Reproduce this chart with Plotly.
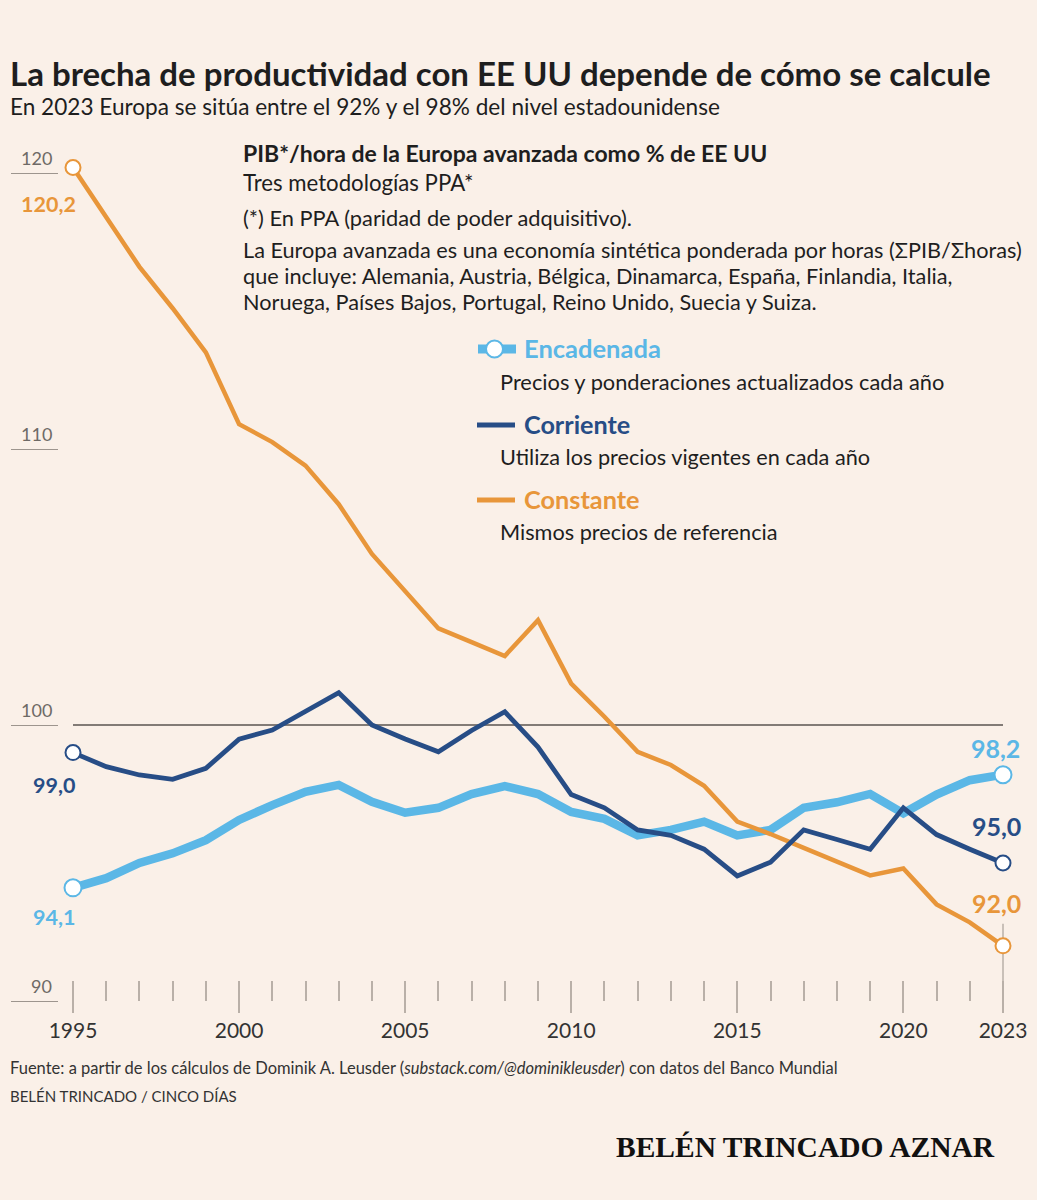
import plotly.graph_objects as go

# data (PIB/hora Europa avanzada como % de EE UU)
years = list(range(1995, 2024))
encadenada = [94.1, 94.45, 95.0, 95.35, 95.83, 96.56, 97.1, 97.58, 97.83, 97.22,
              96.82, 97.0, 97.5, 97.79, 97.5, 96.85, 96.6, 96.0, 96.2, 96.5,
              96.0, 96.2, 97.0, 97.2, 97.5, 96.8, 97.48, 98.0, 98.2]
corriente = [99.0, 98.49, 98.19, 98.03, 98.43, 99.49, 99.82, 100.48, 101.17, 100.0,
             99.49, 99.03, 99.8, 100.48, 99.2, 97.48, 97.0, 96.2, 96.0, 95.5,
             94.53, 95.03, 96.2, 95.85, 95.5, 97.0, 96.03, 95.5, 95.0]
constante = [120.2, 118.4, 116.6, 115.1, 113.5, 110.9, 110.25, 109.4, 108.0, 106.2,
             104.85, 103.5, 103.0, 102.5, 103.8, 101.5, 100.3, 99.03, 98.55, 97.8,
             96.5, 96.05, 95.55, 95.05, 94.55, 94.8, 93.5, 92.85, 92.0]
major_years = [1995, 2000, 2005, 2010, 2015, 2020, 2023]
y_ticks = [90, 100, 110, 120]
end_labels = {"encadenada": ("94,1", "98,2"),
              "corriente": ("99,0", "95,0"),
              "constante": ("120,2", "92,0")}

BG = "#FAF0E8"
BLUE = "#5BB7E6"
NAVY = "#274D86"
ORANGE = "#E8963A"
INK = "#1E1E1E"
GREY = "#6E6A66"
FONT = "Lato"

W, H = 1037, 1200
# pixel geometry of the plot
px_year = (1003 - 73) / 28
px_unit = 27.6
x_lo = 1995 - 73 / px_year
x_hi = x_lo + W / px_year
y_hi = 100 + 725 / px_unit
y_lo = y_hi - H / px_unit


def py(p):
    return 1 - p / H


def px(p):
    return p / W


fig = go.Figure()

# reference line at 100
fig.add_trace(go.Scatter(x=[years[0], years[-1]], y=[100, 100], mode="lines",
                         line=dict(color="#5a5550", width=1.3), hoverinfo="skip"))
# 2023 leader tick
fig.add_trace(go.Scatter(x=[years[-1], years[-1]], y=[92.8, y_hi - 1012 / px_unit],
                         mode="lines", line=dict(color="#b9b0a8", width=1.5),
                         hoverinfo="skip"))

series = [
    ("encadenada", encadenada, BLUE, 8.5, 17),
    ("constante", constante, ORANGE, 4.5, 15),
    ("corriente", corriente, NAVY, 4.8, 15),
]
for key, vals, color, lw, msize in series:
    fig.add_trace(go.Scatter(x=years, y=vals, mode="lines",
                             line=dict(color=color, width=lw)))
    fig.add_trace(go.Scatter(x=[years[0], years[-1]], y=[vals[0], vals[-1]],
                             mode="markers",
                             marker=dict(size=msize, color="white",
                                         line=dict(color=color, width=2))))

label_offsets = {
    "encadenada": ((-19, -29, 21.5), (-8, 27, 25)),
    "corriente": ((-19, -32, 21.5), (-7, 37, 25)),
    "constante": ((-25, -37, 21.5), (-7, 43, 25)),
}
colors = {"encadenada": BLUE, "corriente": NAVY, "constante": ORANGE}
data = {"encadenada": encadenada, "corriente": corriente, "constante": constante}
for key, (first, last) in end_labels.items():
    (dx0, dy0, s0), (dx1, dy1, s1) = label_offsets[key]
    vals = data[key]
    fig.add_annotation(x=years[0], y=vals[0], text="<b>%s</b>" % first, showarrow=False,
                       xshift=dx0, yshift=dy0,
                       font=dict(family=FONT, size=s0, color=colors[key]))
    fig.add_annotation(x=years[-1], y=vals[-1], text="<b>%s</b>" % last, showarrow=False,
                       xshift=dx1, yshift=dy1,
                       font=dict(family=FONT, size=s1, color=colors[key]))

# y tick labels sit above their short tick lines, right aligned
for v in y_ticks:
    fig.add_annotation(xref="paper", x=px(54), y=v, text=str(v), showarrow=False,
                       xanchor="right", yanchor="bottom", yshift=2,
                       font=dict(family=FONT, size=18, color=GREY))

# titles and notes
texts = [
    (8, 73, "<b>La brecha de productividad con EE UU depende de cómo se calcule</b>", 33, INK, FONT),
    (8, 107, "En 2023 Europa se sitúa entre el 92% y el 98% del nivel estadounidense", 22.6, INK, FONT),
    (241, 153, "<b>PIB*/hora de la Europa avanzada como % de EE UU</b>", 23, INK, FONT),
    (241, 183, "Tres metodologías PPA*", 22.2, INK, FONT),
    (241, 217, "(*) En PPA (paridad de poder adquisitivo).", 21.8, INK, FONT),
    (241, 250, "La Europa avanzada es una economía sintética ponderada por horas (ΣPIB/Σhoras)", 21.7, INK, FONT),
    (241, 276, "que incluye: Alemania, Austria, Bélgica, Dinamarca, España, Finlandia, Italia,", 21.7, INK, FONT),
    (241, 302, "Noruega, Países Bajos, Portugal, Reino Unido, Suecia y Suiza.", 21.7, INK, FONT),
    (522, 348, "<b>Encadenada</b>", 25.5, BLUE, FONT),
    (498, 381, "Precios y ponderaciones actualizados cada año", 21.8, INK, FONT),
    (522, 424, "<b>Corriente</b>", 25.2, NAVY, FONT),
    (498, 457, "Utiliza los precios vigentes en cada año", 21.7, INK, FONT),
    (522, 499, "<b>Constante</b>", 25.3, ORANGE, FONT),
    (498, 532, "Mismos precios de referencia", 21.7, INK, FONT),
    (8, 1068, "Fuente: a partir de los cálculos de Dominik A. Leusder (<i>substack.com/@dominikleusder</i>) con datos del Banco Mundial", 16.5, "#333", FONT),
    (8, 1096, "BELÉN TRINCADO / CINCO DÍAS", 15, "#333", FONT),
    (614, 1147, "<b>BELÉN TRINCADO AZNAR</b>", 29.5, "#111", "Liberation Serif"),
]
for x, y, t, size, color, family in texts:
    fig.add_annotation(xref="paper", yref="paper", x=px(x), y=py(y), text=t,
                       showarrow=False, xanchor="left", yanchor="middle",
                       font=dict(family=family, size=size, color=color))

# legend swatches
fig.add_shape(type="line", xref="paper", yref="paper", x0=px(478), x1=px(516),
              y0=py(349), y1=py(349), line=dict(color=BLUE, width=9))
fig.add_shape(type="circle", xref="paper", yref="paper", x0=px(486), x1=px(503),
              y0=py(357.5), y1=py(340.5), fillcolor="white", line=dict(color=BLUE, width=2))
fig.add_shape(type="line", xref="paper", yref="paper", x0=px(477), x1=px(515),
              y0=py(425), y1=py(425), line=dict(color=NAVY, width=5))
fig.add_shape(type="line", xref="paper", yref="paper", x0=px(477), x1=px(515),
              y0=py(500), y1=py(500), line=dict(color=ORANGE, width=5))

fig.update_layout(
    width=W, height=H,
    margin=dict(l=0, r=0, t=0, b=0),
    paper_bgcolor=BG, plot_bgcolor=BG,
    showlegend=False,
    font=dict(family=FONT, color=INK),
    xaxis=dict(range=[x_lo, x_hi], anchor="free", position=py(980),
               showgrid=False, zeroline=False, showline=False,
               tickmode="array", tickvals=major_years,
               ticks="outside", ticklen=32, tickwidth=1.5, tickcolor="#b9b0a8",
               tickfont=dict(family=FONT, size=21, color="#333"),
               minor=dict(tickmode="array", tickvals=years, ticks="outside",
                          ticklen=20, tickwidth=1.5, tickcolor="#b9b0a8")),
    yaxis=dict(range=[y_lo, y_hi], anchor="free", position=px(58),
               showgrid=False, zeroline=False, showline=False,
               tickmode="array", tickvals=y_ticks, showticklabels=False,
               ticks="outside", ticklen=47, tickwidth=1.3, tickcolor="#9d958e"),
)

fig.write_html("out.html", config={"displayModeBar": False},
               post_script="document.body.style.margin='0';document.body.style.background='%s';" % BG)
